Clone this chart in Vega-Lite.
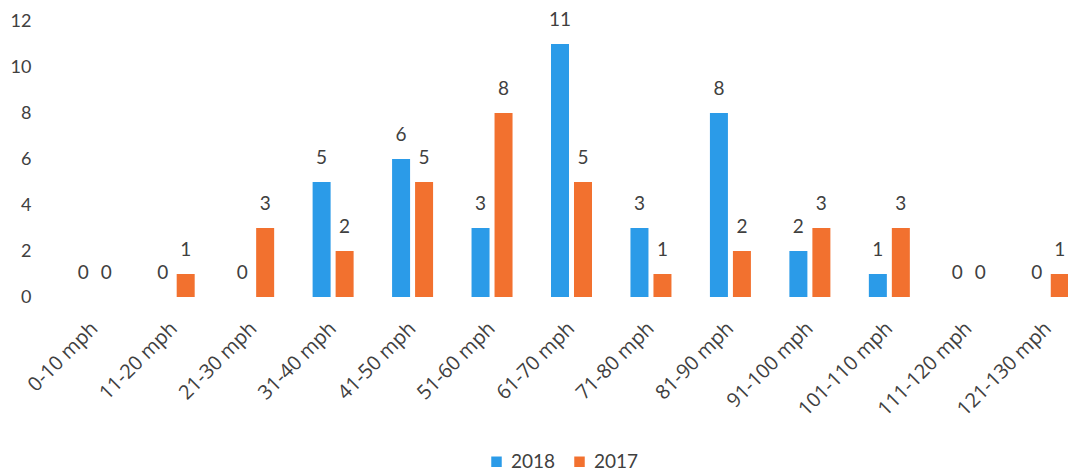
{
  "$schema": "https://vega.github.io/schema/vega-lite/v6.json",
  "autosize": "none",
  "width": 1013,
  "height": 276,
  "padding": {"left": 55, "top": 21, "right": 0, "bottom": 178},
  "background": "white",
  "config": {
    "view": {"stroke": null},
    "font": "Lato",
    "axis": {"labelFont": "Lato", "labelColor": "#404040", "labelFontSize": 18}
  },
  "data": {
    "values": [
      {"range": "0-10 mph", "year": "2018", "count": 0},
      {"range": "0-10 mph", "year": "2017", "count": 0},
      {"range": "11-20 mph", "year": "2018", "count": 0},
      {"range": "11-20 mph", "year": "2017", "count": 1},
      {"range": "21-30 mph", "year": "2018", "count": 0},
      {"range": "21-30 mph", "year": "2017", "count": 3},
      {"range": "31-40 mph", "year": "2018", "count": 5},
      {"range": "31-40 mph", "year": "2017", "count": 2},
      {"range": "41-50 mph", "year": "2018", "count": 6},
      {"range": "41-50 mph", "year": "2017", "count": 5},
      {"range": "51-60 mph", "year": "2018", "count": 3},
      {"range": "51-60 mph", "year": "2017", "count": 8},
      {"range": "61-70 mph", "year": "2018", "count": 11},
      {"range": "61-70 mph", "year": "2017", "count": 5},
      {"range": "71-80 mph", "year": "2018", "count": 3},
      {"range": "71-80 mph", "year": "2017", "count": 1},
      {"range": "81-90 mph", "year": "2018", "count": 8},
      {"range": "81-90 mph", "year": "2017", "count": 2},
      {"range": "91-100 mph", "year": "2018", "count": 2},
      {"range": "91-100 mph", "year": "2017", "count": 3},
      {"range": "101-110 mph", "year": "2018", "count": 1},
      {"range": "101-110 mph", "year": "2017", "count": 3},
      {"range": "111-120 mph", "year": "2018", "count": 0},
      {"range": "111-120 mph", "year": "2017", "count": 0},
      {"range": "121-130 mph", "year": "2018", "count": 0},
      {"range": "121-130 mph", "year": "2017", "count": 1}
    ]
  },
  "encoding": {
    "x": {
      "field": "range",
      "type": "nominal",
      "sort": null,
      "scale": {"range": [0, 1033], "paddingInner": 0.484, "paddingOuter": 0.242},
      "axis": {
        "title": null,
        "labelAngle": -45,
        "labelAlign": "right",
        "labelBaseline": "middle",
        "labelFont": "Open Sans",
        "labelFontSize": 20,
        "ticks": false,
        "domain": false,
        "labelPadding": 28
      }
    },
    "xOffset": {
      "field": "year",
      "type": "nominal",
      "scale": {"domain": ["2018", "2017"], "paddingInner": 0.217, "paddingOuter": 0}
    },
    "y": {
      "field": "count",
      "type": "quantitative",
      "scale": {"domain": [0, 12]},
      "axis": {
        "title": null,
        "values": [0, 2, 4, 6, 8, 10, 12],
        "grid": false,
        "ticks": false,
        "domain": false,
        "labelPadding": 24
      }
    }
  },
  "layer": [
    {
      "mark": {"type": "bar"},
      "encoding": {
        "color": {
          "field": "year",
          "type": "nominal",
          "scale": {"domain": ["2018", "2017"], "range": ["#2B9BE8", "#F2712F"]},
          "legend": {
            "title": null,
            "orient": "none",
            "legendX": 432,
            "legendY": 431,
            "direction": "horizontal",
            "symbolType": "square",
            "symbolSize": 110,
            "symbolStrokeWidth": 0,
            "labelFontSize": 19,
            "labelFont": "Lato",
            "labelColor": "#404040",
            "labelOffset": 5,
            "columnPadding": 14
          }
        }
      }
    },
    {
      "mark": {"type": "text", "baseline": "bottom", "dy": -14, "fontSize": 19, "font": "Lato", "color": "#404040"},
      "encoding": {
        "text": {"field": "count", "type": "quantitative"}
      }
    }
  ]
}
